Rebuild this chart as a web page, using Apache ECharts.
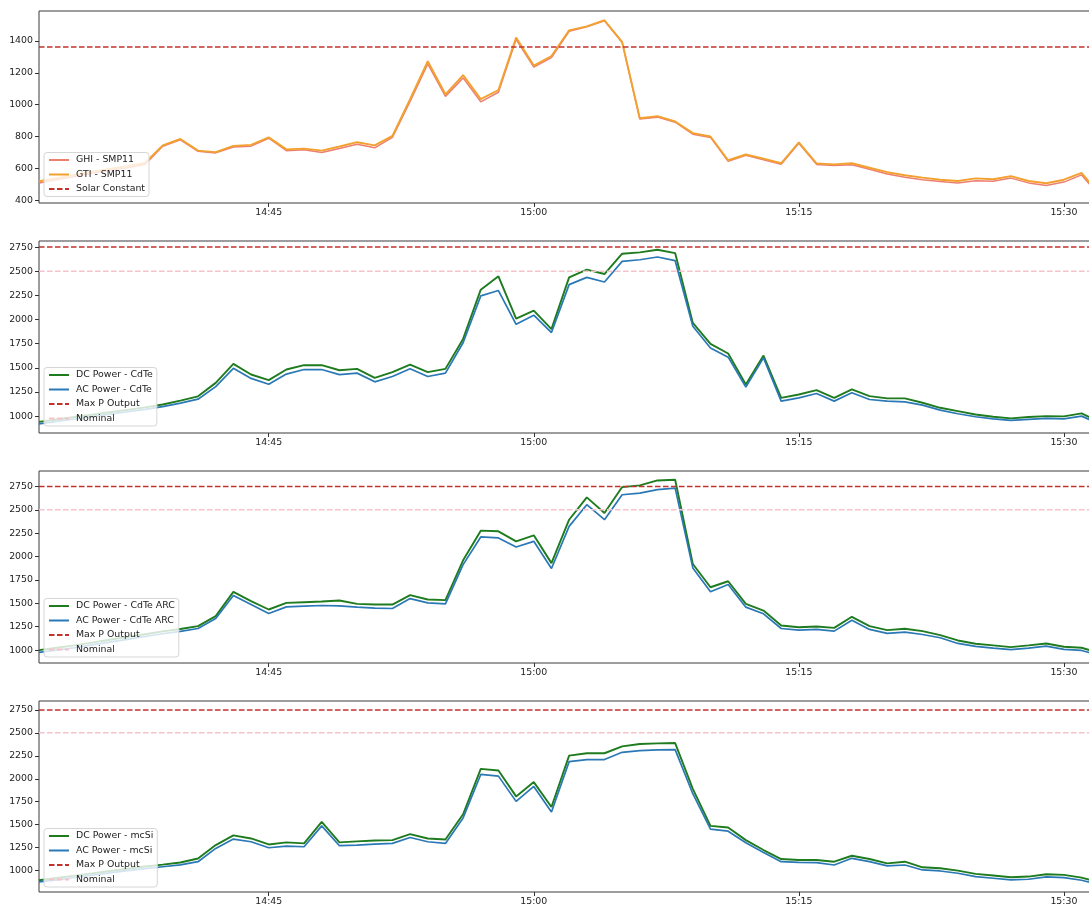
<!DOCTYPE html>
<html>
<head>
<meta charset="utf-8">
<script src="https://cdn.jsdelivr.net/npm/echarts@6/dist/echarts.min.js"></script>
<style>
html,body{margin:0;padding:0;background:#fff;overflow:hidden;width:1089px;height:906px;}
#chart{width:1095px;height:906px;}
</style>
</head>
<body>
<div id="chart"></div>
<script>
// ---- DATA ----
const times = ["14:32","14:33","14:34","14:35","14:36","14:37","14:38","14:39","14:40","14:41",
"14:42","14:43","14:44","14:45","14:46","14:47","14:48","14:49","14:50","14:51",
"14:52","14:53","14:54","14:55","14:56","14:57","14:58","14:59","15:00","15:01",
"15:02","15:03","15:04","15:05","15:06","15:07","15:08","15:09","15:10","15:11",
"15:12","15:13","15:14","15:15","15:16","15:17","15:18","15:19","15:20","15:21",
"15:22","15:23","15:24","15:25","15:26","15:27","15:28","15:29","15:30","15:31","15:32"];

const xTickLabels = ["14:45","15:00","15:15","15:30"];

const ghi = [510,530,550,570,588,605,625,740,780,708,698,735,740,790,712,718,700,725,752,730,
795,1020,1255,1052,1168,1018,1078,1410,1235,1295,1460,1488,1525,1390,910,922,890,815,795,646,
683,655,627,758,626,619,624,595,566,546,530,518,510,524,520,540,510,494,515,560,430];
const gti = [520,540,560,580,598,615,635,745,785,712,703,742,748,795,720,725,712,738,765,745,
805,1035,1272,1065,1185,1035,1092,1421,1245,1305,1466,1491,1529,1393,915,928,895,822,801,652,
688,662,633,764,632,626,633,605,577,558,543,530,522,538,533,552,522,508,530,573,440];

const dcCdTe = [940,965,990,1015,1040,1065,1090,1120,1160,1205,1344,1541,1431,1372,1482,1527,1527,1475,1489,1396,
1455,1534,1455,1489,1799,2309,2447,2009,2092,1900,2436,2516,2471,2681,2695,2722,2688,1965,1748,1648,
1327,1627,1189,1224,1269,1189,1276,1207,1183,1183,1138,1086,1052,1017,993,976,990,1000,997,1028,940];
const acCdTe = [920,945,970,995,1020,1045,1070,1098,1135,1175,1305,1495,1390,1330,1435,1482,1482,1430,1445,1355,
1410,1490,1410,1445,1760,2245,2300,1950,2045,1865,2361,2436,2388,2602,2619,2647,2609,1930,1706,1610,
1300,1603,1155,1189,1234,1155,1241,1172,1155,1148,1114,1062,1024,993,972,955,966,976,972,1000,920];

const dcCdTeARC = [1000,1025,1050,1080,1110,1140,1170,1200,1225,1256,1363,1623,1523,1434,1505,1512,1519,1530,1494,1487,
1487,1587,1541,1534,1960,2277,2270,2163,2227,1930,2394,2633,2466,2743,2761,2814,2821,1921,1672,1736,
1494,1423,1263,1245,1253,1238,1356,1256,1213,1228,1203,1160,1103,1068,1050,1032,1050,1071,1036,1025,970];
const acCdTeARC = [975,1000,1025,1055,1085,1115,1145,1175,1200,1231,1338,1583,1487,1391,1462,1470,1477,1473,1459,1448,
1445,1551,1505,1494,1914,2210,2199,2103,2163,1872,2323,2555,2394,2661,2679,2715,2732,1879,1623,1701,
1459,1388,1231,1213,1221,1203,1320,1221,1178,1192,1167,1132,1071,1039,1021,1004,1021,1043,1007,996,945];

const dcMcSi = [895,920,945,970,995,1020,1045,1065,1088,1132,1278,1383,1350,1285,1307,1296,1530,1307,1318,1328,
1332,1397,1350,1339,1613,2108,2090,1808,1964,1693,2252,2278,2278,2353,2379,2386,2389,1891,1487,1469,
1332,1224,1126,1115,1115,1097,1162,1126,1079,1097,1036,1025,1000,964,946,928,935,960,953,924,870];
const acMcSi = [878,900,925,950,975,1000,1022,1042,1062,1097,1242,1343,1314,1249,1267,1260,1487,1271,1278,1289,
1296,1361,1314,1296,1574,2047,2029,1754,1917,1639,2187,2209,2209,2288,2306,2314,2317,1837,1451,1429,
1303,1198,1097,1090,1087,1061,1134,1097,1051,1061,1007,996,971,935,917,899,906,931,924,895,845];

const SOLAR_CONSTANT = 1361;
const MAX_P_OUTPUT = 2750;
const NOMINAL = 2500;

const yTicksIrr = [400,600,800,1000,1200,1400];
const yTicksPow = [1000,1250,1500,1750,2000,2250,2500,2750];

// ---- BUILD ----
function toMin(t){const p=t.split(':').map(Number);return (p[0]-14)*60+p[1];}
const xs = times.map(toMin);
const xTickVals = xTickLabels.map(toMin);
function pair(arr){return arr.map((v,i)=>[xs[i],v]);}
function hline(v){return [[xs[0],v],[xs[xs.length-1],v]];}
function fmtTime(v){const h=14+Math.floor(v/60), m=Math.round(v%60);return h+':'+(m<10?'0':'')+m;}

const FONT = 'DejaVu Sans';
const FS = 9.4;
const panelTops = [11,241,471,701];
const panelH = 192;
const yRanges = [[384,1587],[825,2813],[862,2915],[767,2847]];
const legendTops = [152.5,367.5,598.5,828.5];

const grids=[], xAxes=[], yAxes=[], legends=[], series=[];
for(let k=0;k<4;k++){
  grids.push({left:39,right:0,top:panelTops[k],height:panelH,show:true,borderColor:'#3a3a3a',borderWidth:1,backgroundColor:'#fff'});
  xAxes.push({type:'value',gridIndex:k,min:32,max:91.76,
    axisLine:{show:false},splitLine:{show:false},
    axisTick:{show:true,length:4,customValues:xTickVals,lineStyle:{color:'#333'}},
    axisLabel:{customValues:xTickVals,formatter:fmtTime,fontFamily:FONT,fontSize:FS,color:'#222',margin:5}});
  yAxes.push({type:'value',gridIndex:k,min:yRanges[k][0],max:yRanges[k][1],
    axisLine:{show:false},splitLine:{show:false},
    axisTick:{show:true,length:4,customValues:k===0?yTicksIrr:yTicksPow,lineStyle:{color:'#333'}},
    axisLabel:{customValues:k===0?yTicksIrr:yTicksPow,formatter:v=>String(v),fontFamily:FONT,fontSize:FS,color:'#222',margin:6}});
}

function line(name,k,data,color,width,type,z){
  return {name:name,type:'line',xAxisIndex:k,yAxisIndex:k,data:data,symbol:'none',showSymbol:false,
    lineStyle:{color:color,width:width,type:type||'solid'},itemStyle:{color:color,opacity:0},z:z||2,
    emphasis:{disabled:true},silent:true,animation:false,clip:true};
}
const DC_C='#1e7b1e', AC_C='#2a78b5', RED='#c3312b', PINK='#f7c3cb';
const DASH=[5.5,2.5];

series.push(line('GHI - SMP11',0,pair(ghi),'#ec7f72',1.5));
series.push(line('GTI - SMP11',0,pair(gti),'#f3a12e',1.9,null,3));
series.push(line('Solar Constant',0,hline(SOLAR_CONSTANT),RED,1.5,DASH,4));
legends.push({data:['GHI - SMP11','GTI - SMP11','Solar Constant']});

const pw = [
  ['CdTe',dcCdTe,acCdTe],
  ['CdTe ARC',dcCdTeARC,acCdTeARC],
  ['mcSi',dcMcSi,acMcSi]
];
pw.forEach((p,j)=>{
  const k=j+1;
  series.push(line('DC Power - '+p[0],k,pair(p[1]),DC_C,1.9));
  series.push(line('AC Power - '+p[0],k,pair(p[2]),AC_C,1.7,null,3));
  series.push(line('Max P Output',k,hline(MAX_P_OUTPUT),RED,1.5,DASH,4));
  series.push(line('Nominal',k,hline(NOMINAL),PINK,1.5,DASH,4));
  legends.push({data:['DC Power - '+p[0],'AC Power - '+p[0],'Max P Output','Nominal']});
});

legends.forEach((lg,k)=>{
  Object.assign(lg,{orient:'vertical',left:44,top:legendTops[k],padding:[3,4,3,4],itemGap:5.5,
    itemWidth:20,itemHeight:10,selectedMode:false,
    itemStyle:{opacity:0},
    textStyle:{fontFamily:FONT,fontSize:FS,color:'#222',padding:[0,0,0,2]},
    backgroundColor:'rgba(255,255,255,0.8)',borderColor:'#d6d6d6',borderWidth:1,borderRadius:3});
});

const chart = echarts.init(document.getElementById('chart'),null,{renderer:'canvas'});
chart.setOption({animation:false,backgroundColor:'#fff',grid:grids,xAxis:xAxes,yAxis:yAxes,legend:legends,series:series});
</script>
</body>
</html>
